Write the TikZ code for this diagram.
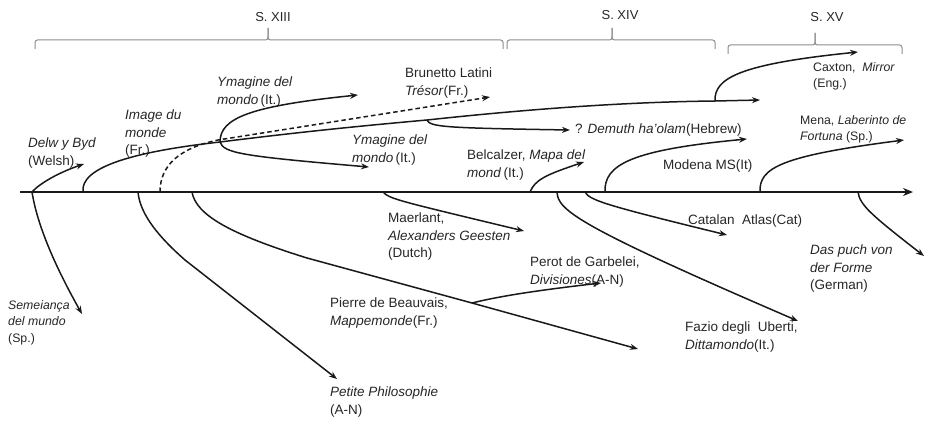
\documentclass[tikz,border=0pt]{standalone}
\usepackage{fontspec}
\setmainfont{Liberation Sans}
\usetikzlibrary{arrows.meta}
\begin{document}
\begin{tikzpicture}[x=1pt,y=-1pt,
  conn/.style={line width=1.5pt, black!90},
  arr/.style={conn, -{Stealth[length=8pt,width=6pt]}},
  dashconn/.style={arr, dash pattern=on 4.5pt off 3pt},
  bracket/.style={line width=1pt, black!45, rounded corners=2.5pt},
  lbl/.style={anchor=north west, inner sep=0pt, align=left, text=black!85, font=\fontsize{13.5}{17.5}\selectfont},
  slbl/.style={lbl, font=\fontsize{12.3}{16.5}\selectfont},
  cent/.style={inner sep=0pt, text=black!85, font=\fontsize{13}{15}\selectfont}]
\useasboundingbox (0,0) rectangle (928,420);

% century brackets
\coordinate (b13l) at (35,49); \coordinate (b13c) at (268,28); \coordinate (b13r) at (503,49);
\coordinate (b14l) at (507,49); \coordinate (b14c) at (612,28); \coordinate (b14r) at (715,49);
\coordinate (b15l) at (728,54); \coordinate (b15c) at (815,33); \coordinate (b15r) at (902,54);
\draw[bracket] (b13l) -- (35,40) -- (268,40) -- (b13c);
\draw[bracket] (b13c) -- (268,40) -- (503,40) -- (b13r);
\draw[bracket] (b14l) -- (507,40) -- (612,40) -- (b14c);
\draw[bracket] (b14c) -- (612,40) -- (715,40) -- (b14r);
\draw[bracket] (b15l) -- (728,45) -- (815,45) -- (b15c);
\draw[bracket] (b15c) -- (815,45) -- (902,45) -- (b15r);
\node[cent] (s13) at (273,17) {S. XIII};
\node[cent] (s14) at (620,15) {S. XIV};
\node[cent] (s15) at (827,17) {S. XV};

% main axis
\coordinate (ax0) at (20,192);
\coordinate (ax1) at (913,192);
\draw[conn, line width=1.7pt, -{Stealth[length=10pt,width=8pt]}] (ax0) -- (ax1);

% start points on axis
\coordinate (d0) at (32,192);
\coordinate (im0) at (83,192);
\coordinate (pp0) at (138,192);
\coordinate (ds0) at (160,192);
\coordinate (pb0) at (192,192);
\coordinate (ma0) at (383,192);
\coordinate (be0) at (530,192);
\coordinate (fa0) at (557,192);
\coordinate (ca0) at (585,192);
\coordinate (mo0) at (605,192);
\coordinate (me0) at (760,192);
\coordinate (dp0) at (858,192);

% branch points on upper line
\coordinate (imA) at (220,142);
\coordinate (imB) at (427,120);
\coordinate (imC) at (715,101);
\coordinate (imE) at (760,100);

% end points
\coordinate (d1) at (84,164);
\coordinate (se1) at (82,314);
\coordinate (ym1) at (358,95);
\coordinate (ym2) at (369,167);
\coordinate (ds1) at (490,97);
\coordinate (de1) at (570,130);
\coordinate (cx1) at (858,52);
\coordinate (ma1) at (524,231);
\coordinate (be1) at (584,162);
\coordinate (mo1) at (747,139);
\coordinate (me1) at (904,140);
\coordinate (dp1) at (924,256);
\coordinate (ca1) at (727,235);
\coordinate (fa1) at (798,321);
\coordinate (pb1) at (307,258);
\coordinate (pbr) at (472,303);
\coordinate (pb2) at (638,349);
\coordinate (pe1) at (601,283);
\coordinate (pp1) at (185,260);
\coordinate (pp2) at (337,379);

% labels
\node[lbl] (delw) at (28,138) {\textit{Delw y Byd}\\(Welsh)};
\node[lbl] (image) at (125,110) {\textit{Image du}\\\textit{monde}\\(Fr.)};
\node[lbl] (ymagA) at (217,77) {\textit{Ymagine del}\\\textit{mondo}\,(It.)};
\node[lbl] (brun) at (405,68) {Brunetto Latini\\\textit{Trésor}(Fr.)};
\node[lbl] (ymagB) at (352,135) {\textit{Ymagine del}\\\textit{mondo}\,(It.)};
\node[lbl] (demuth) at (575,124) {? \textit{Demuth ha'olam}(Hebrew)};
\node[slbl] (caxton) at (813,62) {Caxton,\ \ \textit{Mirror}\\(Eng.)};
\node[slbl] (mena) at (800,115) {Mena, \textit{Laberinto de}\\\textit{Fortuna} (Sp.)};
\node[lbl] (belc) at (467,150) {Belcalzer, \textit{Mapa del}\\\textit{mond}\,(It.)};
\node[lbl] (modena) at (663,160) {Modena MS(It)};
\node[lbl] (maer) at (388,213) {Maerlant,\\\textit{Alexanders Geesten}\\(Dutch)};
\node[lbl] (catalan) at (688,215) {Catalan\ \ Atlas(Cat)};
\node[lbl] (daspuch) at (810,245) {\textit{Das puch von}\\\textit{der Forme}\\(German)};
\node[lbl] (perot) at (530,257) {Perot de Garbelei,\\\textit{Divisiones}(A-N)};
\node[lbl] (pierre) at (330,298) {Pierre de Beauvais,\\\textit{Mappemonde}(Fr.)};
\node[lbl] (fazio) at (685,322) {Fazio degli\ \ Uberti,\\\textit{Dittamondo}(It.)};
\node[lbl] (petite) at (330,387) {\textit{Petite Philosophie}\\(A-N)};
\node[slbl] (semei) at (8,300) {\textit{Semeiança}\\\textit{del mundo}\\(Sp.)};

% connectors
\draw[arr] (d0) .. controls (40,183) and (60,172) .. (d1);
\draw[arr] (d0) .. controls (38,230) and (60,275) .. (se1);
\draw[arr] (im0) .. controls (80,168) and (130,152) .. (imA)
   .. controls (300,132) and (360,126) .. (imB)
   .. controls (520,110) and (620,102) .. (imC) -- (imE);
\draw[dashconn] (ds0) .. controls (160,165) and (180,148) .. (218,140) -- (ds1);
\draw[arr] (imA) .. controls (220,118) and (250,106) .. (ym1);
\draw[arr] (imA) .. controls (224,153) and (240,156) .. (ym2);
\draw[arr] (imB) .. controls (430,127) and (445,128) .. (de1);
\draw[arr] (imC) .. controls (714,78) and (740,64) .. (cx1);
\draw[arr] (ma0) .. controls (390,199) and (395,200) .. (ma1);
\draw[arr] (be0) .. controls (535,180) and (545,175) .. (be1);
\draw[arr] (mo0) .. controls (604,165) and (630,150) .. (mo1);
\draw[arr] (me0) .. controls (759,168) and (780,156) .. (me1);
\draw[arr] (dp0) .. controls (860,205) and (870,214) .. (dp1);
\draw[arr] (ca0) .. controls (590,200) and (600,204) .. (ca1);
\draw[arr] (fa0) .. controls (558,210) and (575,225) .. (fa1);
\draw[arr] (pb0) .. controls (196,215) and (230,234) .. (pb1) -- (pbr) -- (pb2);
\draw[arr] (pbr) .. controls (500,296) and (540,290) .. (pe1);
\draw[arr] (pp0) .. controls (140,215) and (160,238) .. (pp1) -- (pp2);
\end{tikzpicture}
\end{document}
